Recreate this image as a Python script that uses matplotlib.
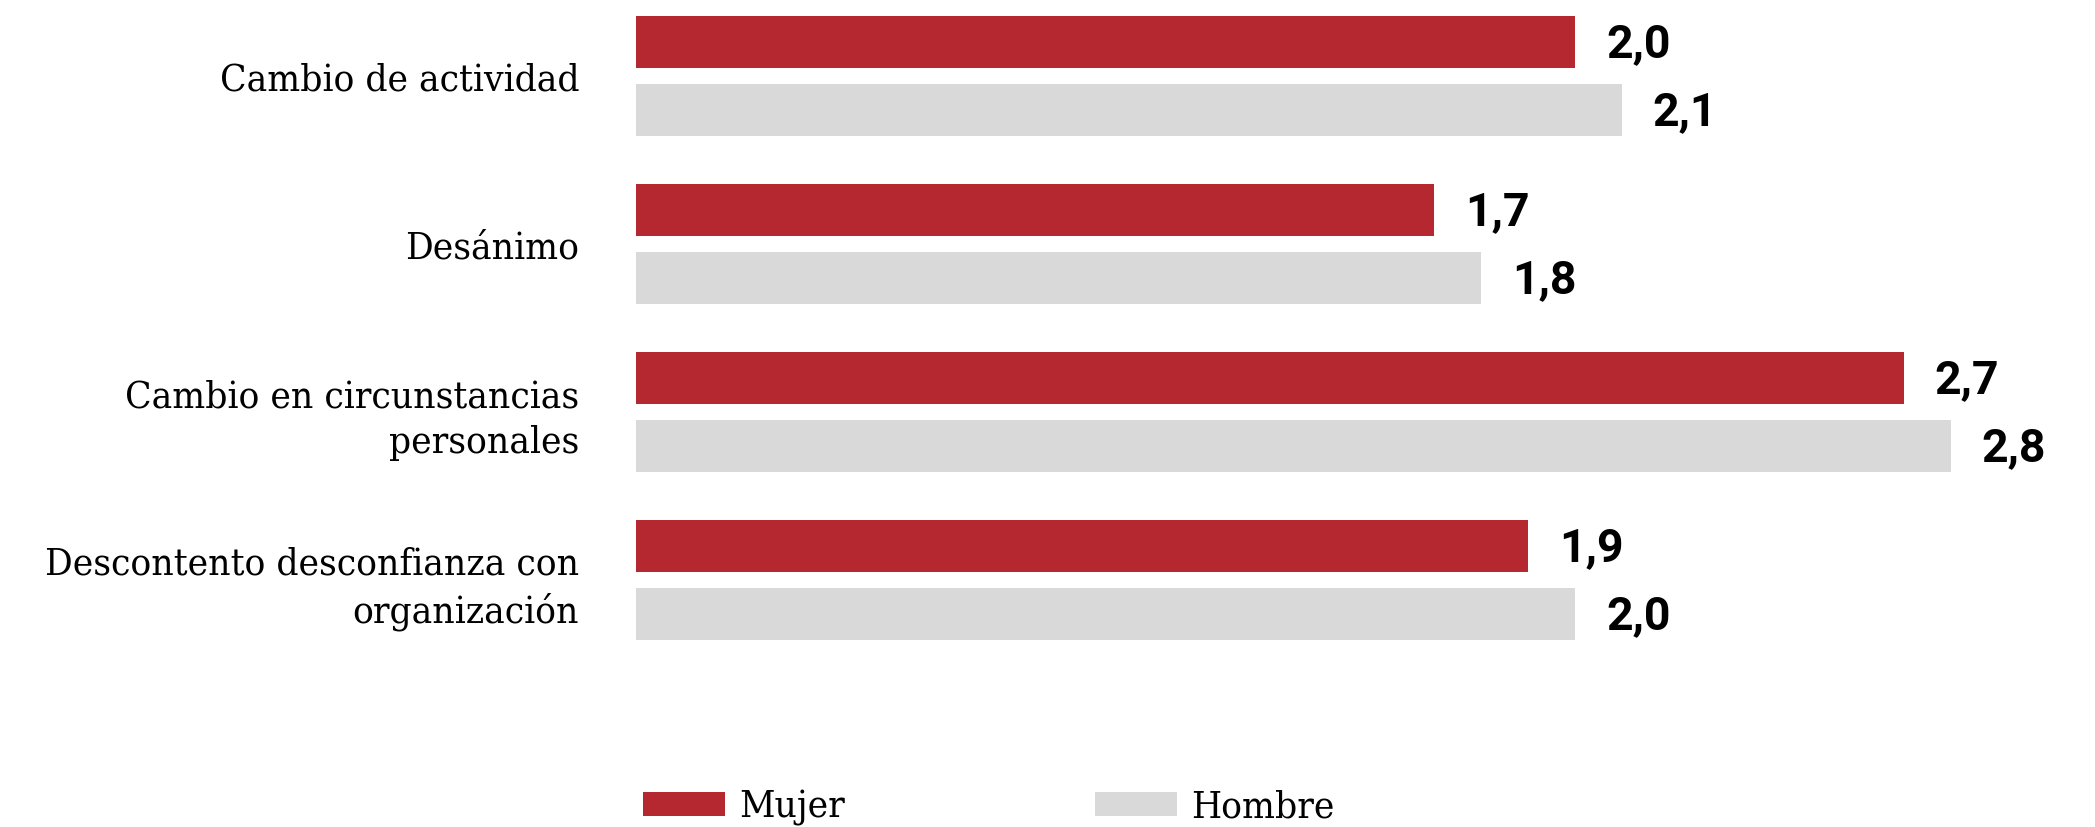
import matplotlib
matplotlib.use("Agg")
import numpy as np
import matplotlib.pyplot as plt

# Datos del gráfico
categorias = ["Cambio de actividad", "Desánimo",
              "Cambio en circunstancias\npersonales",
              "Descontento desconfianza con\norganización"]
mujer = [2.0, 1.7, 2.7, 1.9]
hombre = [2.1, 1.8, 2.8, 2.0]
etiquetas_mujer = ["2,0", "1,7", "2,7", "1,9"]
etiquetas_hombre = ["2,1", "1,8", "2,8", "2,0"]

ROJO = "#B6282F"
GRIS = "#D9D9D9"
SERIF = dict(family="DejaVu Serif", stretch="condensed")

fig = plt.figure(figsize=(20.95, 8.27), dpi=100)
ax = fig.add_axes([636 / 2095, 1 - 640 / 827, 1409 / 2095, 624 / 827])

y = np.arange(len(categorias))
alto = 0.31
desp = 0.2025

ax.barh(y - desp, mujer, height=alto, color=ROJO, label="Mujer")
ax.barh(y + desp, hombre, height=alto, color=GRIS, label="Hombre")

# Etiquetas de valor a la derecha de cada barra
for yi, v, t in zip(y - desp, mujer, etiquetas_mujer):
    ax.annotate(t, (v, yi), xytext=(22, -1.5), textcoords="offset points",
                va="center", ha="left", family="Roboto", weight="bold", fontsize=33.5)
for yi, v, t in zip(y + desp, hombre, etiquetas_hombre):
    ax.annotate(t, (v, yi), xytext=(22, -1.5), textcoords="offset points",
                va="center", ha="left", family="Roboto", weight="bold", fontsize=33.5)

ax.set_xlim(0, 3.0)
ax.set_ylim(len(categorias) - 1 + 0.3575, -0.3575)
ax.set_yticks(y)
ax.set_yticklabels(categorias, fontsize=27.7, linespacing=1.32, **SERIF)
ax.tick_params(axis="y", length=0, pad=41)
ax.set_xticks([])
for s in ax.spines.values():
    s.set_visible(False)

leg = fig.legend(loc="center left", bbox_to_anchor=(643 / 2095, 1 - 808 / 827),
                 ncol=2, frameon=False, borderpad=0, borderaxespad=0,
                 handlelength=2.13, handleheight=0.6, handletextpad=0.37,
                 columnspacing=6.5, prop=dict(size=27.7, **SERIF))

fig.savefig("out.png", dpi=100)
